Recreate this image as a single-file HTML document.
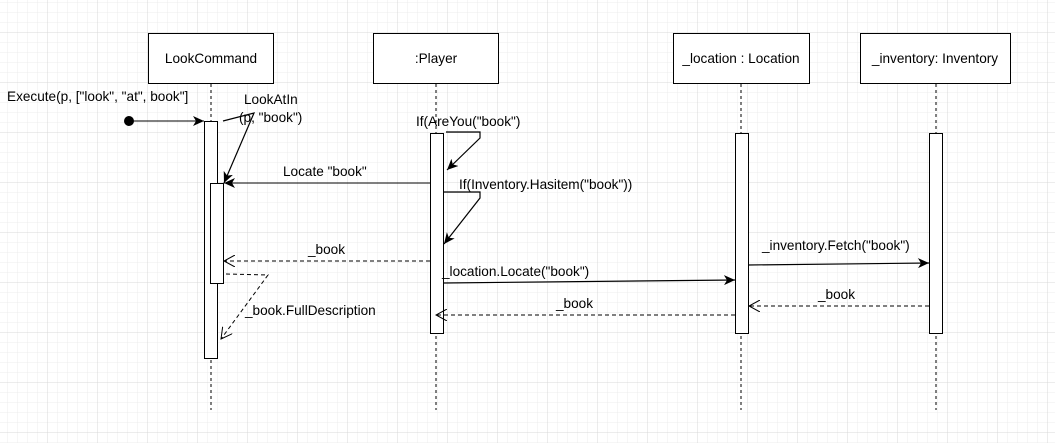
<!DOCTYPE html>
<html><head><meta charset="utf-8"><style>
html,body{margin:0;padding:0;background:#fff}
svg{display:block}
text{font-family:"Liberation Sans",Arial,sans-serif;font-size:13.6px;fill:#000}
</style></head><body>
<svg width="1055" height="443" viewBox="0 0 1055 443" xmlns="http://www.w3.org/2000/svg">
<defs>
<pattern id="minor" width="10" height="10" patternUnits="userSpaceOnUse" x="8" y="3">
<path d="M10 0V10M0 10H10" stroke="#ececec" stroke-width="1" fill="none"/>
</pattern>
<pattern id="major" width="50" height="50" patternUnits="userSpaceOnUse" x="-2" y="-17">
<path d="M50 0V50M0 50H50" stroke="#d9d9d9" stroke-width="1" fill="none"/>
</pattern>
<marker id="af" markerWidth="12" markerHeight="10" refX="11" refY="5" orient="auto" markerUnits="userSpaceOnUse">
<path d="M0 0L11 5L0 10L3 5Z" fill="#000"/>
</marker>
<marker id="ao" markerWidth="12" markerHeight="12" refX="11" refY="6" orient="auto" markerUnits="userSpaceOnUse">
<path d="M0 0L11 6L0 12" fill="none" stroke="#000" stroke-width="1"/>
</marker>
</defs>
<rect width="1055" height="443" fill="url(#minor)"/>
<rect width="1055" height="443" fill="url(#major)"/>

<g stroke="#000" stroke-dasharray="3,3" stroke-width="1">
<line x1="211" y1="84" x2="211" y2="410"/>
<line x1="436" y1="84" x2="436" y2="410"/>
<line x1="741" y1="84" x2="741" y2="410"/>
<line x1="936" y1="84" x2="936" y2="410"/>
</g>
<g fill="#fff" stroke="#000" stroke-width="1">
<rect x="148.5" y="33.5" width="125" height="50"/>
<rect x="373.5" y="33.5" width="125" height="50"/>
<rect x="673.5" y="33.5" width="136" height="50"/>
<rect x="860.5" y="33.5" width="150" height="50"/>
<rect x="204.5" y="121.5" width="13" height="237"/>
<rect x="210.5" y="183.5" width="13" height="100"/>
<rect x="430.5" y="133.5" width="13" height="200"/>
<rect x="735.5" y="133.5" width="13" height="200"/>
<rect x="929.5" y="133.5" width="13" height="200"/>
</g>
<text x="211" y="63" text-anchor="middle">LookCommand</text>
<text x="436" y="63" text-anchor="middle">:Player</text>
<text x="741" y="63" text-anchor="middle">_location : Location</text>
<text x="935" y="63" text-anchor="middle">_inventory: Inventory</text>

<circle cx="129" cy="121" r="5" fill="#000"/>
<line x1="129" y1="121" x2="204" y2="121" stroke="#000" marker-end="url(#af)"/>
<text x="7" y="101">Execute(p, ["look", "at", book"]</text>

<path d="M223 121 L254 113 L224 183" fill="none" stroke="#000" stroke-width="1.2" marker-end="url(#af)"/>
<text x="244" y="104">LookAtIn</text>
<text x="239" y="122">(p, "book")</text>

<line x1="430" y1="183" x2="224" y2="183" stroke="#000" marker-end="url(#af)"/>
<text x="283" y="176">Locate "book"</text>

<path d="M446 132 L480 132 L480 138 L447 170" fill="none" stroke="#000" stroke-width="1.2" marker-end="url(#af)"/>
<text x="416" y="126">If(AreYou("book")</text>

<path d="M444 192 L480 192 L480 198 L444 244" fill="none" stroke="#000" stroke-width="1.2" marker-end="url(#af)"/>
<text x="459" y="189">If(Inventory.Hasitem("book"))</text>

<line x1="430" y1="261" x2="224" y2="261" stroke="#000" stroke-dasharray="4,3" marker-end="url(#ao)"/>
<text x="308" y="254">_book</text>

<path d="M226 274 L268 275 L221 339" fill="none" stroke="#000" stroke-dasharray="4,3" marker-end="url(#ao)"/>
<text x="245" y="315">_book.FullDescription</text>

<line x1="443" y1="283" x2="735" y2="280" stroke="#000" stroke-width="1.2" marker-end="url(#af)"/>
<text x="442" y="276">_location.Locate("book")</text>

<line x1="748" y1="265" x2="929" y2="263" stroke="#000" stroke-width="1.2" marker-end="url(#af)"/>
<text x="762" y="250">_inventory.Fetch("book")</text>

<line x1="929" y1="306" x2="749" y2="306" stroke="#000" stroke-dasharray="4,3" marker-end="url(#ao)"/>
<text x="818" y="299">_book</text>
<line x1="735" y1="315" x2="436" y2="315" stroke="#000" stroke-dasharray="4,3" marker-end="url(#ao)"/>
<text x="556" y="308">_book</text>
</svg>
</body></html>
